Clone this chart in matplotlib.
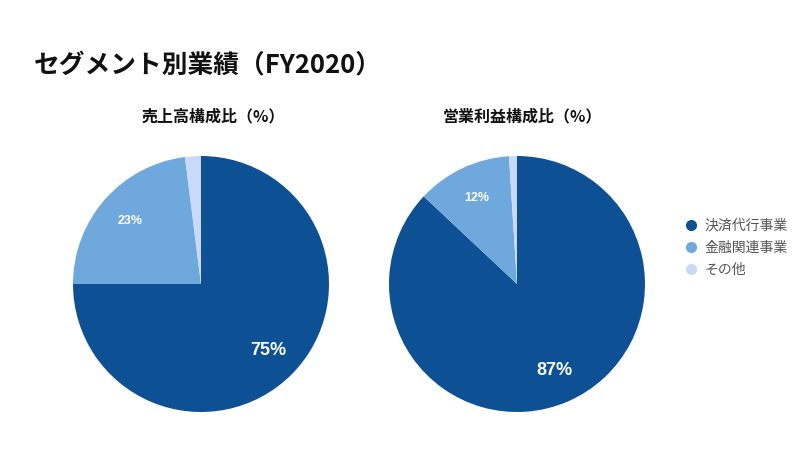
import matplotlib
matplotlib.use("Agg")
import matplotlib.pyplot as plt
from matplotlib.lines import Line2D

plt.rcParams['font.family'] = ['Noto Sans CJK JP', 'DejaVu Sans']

# data
segments = ['決済代行事業', '金融関連事業', 'その他']
sales_share = [75, 23, 2]
profit_share = [87, 12, 1]
sales_labels = ['75%', '23%', '']
profit_labels = ['87%', '12%', '']
colors = ['#0d5194', '#6fa8dc', '#c9daf8']

fig = plt.figure(figsize=(8, 4.5), dpi=100)
fig.patch.set_facecolor('white')

fig.text(34/800, 1 - 65/450, 'セグメント別業績（FY2020）', fontsize=18.5, fontweight='bold',
         va='center', ha='left', color='#111111')


def draw_pie(ax, values, labels):
	wedges, texts = ax.pie(values, colors=colors, startangle=90, counterclock=False,
		labels=labels, labeldistance=0.74, wedgeprops=dict(linewidth=0))
	for i, t in enumerate(texts):
		t.set_color('white')
		t.set_fontweight('bold')
		t.set_family(['Liberation Sans', 'DejaVu Sans'])
		t.set_fontsize(13 if i == 0 else 9)
		t.set_ha('center')
		t.set_va('center')
	ax.set_xlim(-1, 1)
	ax.set_ylim(-1, 1)
	ax.set_aspect('equal')
	return wedges


ax1 = fig.add_axes([73/800, 38/450, 256/800, 256/450])
draw_pie(ax1, sales_share, sales_labels)
ax2 = fig.add_axes([389/800, 38/450, 256/800, 256/450])
draw_pie(ax2, profit_share, profit_labels)

fig.text(213/800, 1 - 116/450, '売上高構成比（%）', fontsize=11.5, fontweight='bold',
         ha='center', va='center', color='#111111')
fig.text(522/800, 1 - 116/450, '営業利益構成比（%）', fontsize=11.5, fontweight='bold',
         ha='center', va='center', color='#111111')

handles = [Line2D([0], [0], marker='o', linestyle='', markersize=7,
                  markerfacecolor=c, markeredgecolor=c) for c in colors]
fig.legend(handles, segments, loc='center left', bbox_to_anchor=(670/800, 1 - 248/450),
           frameon=False, fontsize=10, labelcolor='#555555', handletextpad=0.4,
           labelspacing=0.6, handlelength=1.2)

fig.savefig('out.png', dpi=100, facecolor='white')
